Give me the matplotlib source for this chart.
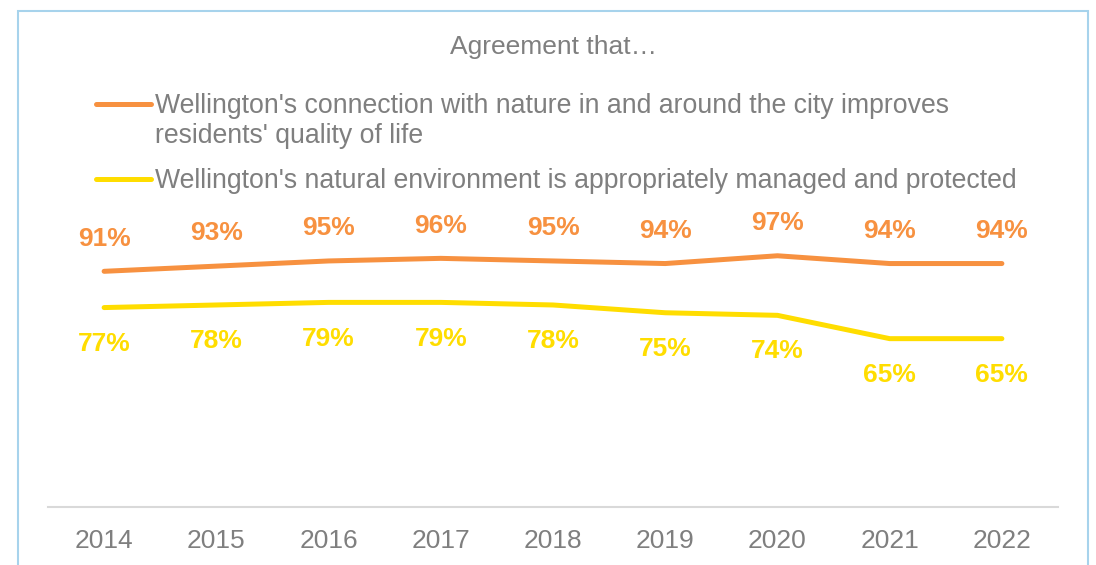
import matplotlib
matplotlib.use("Agg")
import matplotlib.pyplot as plt
from matplotlib.lines import Line2D
from matplotlib.patches import Rectangle

years = ["2014", "2015", "2016", "2017", "2018", "2019", "2020", "2021", "2022"]
connection = [91, 93, 95, 96, 95, 94, 97, 94, 94]
managed = [77, 78, 79, 79, 78, 75, 74, 65, 65]
series_names = [
    "Wellington's connection with nature in and around the city improves\nresidents' quality of life",
    "Wellington's natural environment is appropriately managed and protected",
]
title = "Agreement that\u2026"

ORANGE = "#F79140"
YELLOW = "#FFDD00"
GREY = "#7F7F7F"
W, H = 1096, 565

plt.rcParams['font.family'] = ['Liberation Sans', 'DejaVu Sans']

fig = plt.figure(figsize=(W / 100, H / 100), dpi=100)
ax = fig.add_axes([48 / W, (H - 507) / H, (1058 - 48) / W, 259 / H])

x = list(range(len(years)))
ax.plot(x, connection, color=ORANGE, lw=3.6, solid_capstyle='round', solid_joinstyle='round')
ax.plot(x, managed, color=YELLOW, lw=3.6, solid_capstyle='round', solid_joinstyle='round')

for xi, v in zip(x, connection):
    ax.annotate(f"{v}%", (xi, v), xytext=(0, 23.5), textcoords='offset points',
                ha='center', va='center', color=ORANGE, fontsize=19, fontweight='bold',
                annotation_clip=False)
for xi, v in zip(x, managed):
    ax.annotate(f"{v}%", (xi, v), xytext=(0, -26), textcoords='offset points',
                ha='center', va='center', color=YELLOW, fontsize=19, fontweight='bold',
                annotation_clip=False)

ax.set_xlim(-0.5, len(years) - 0.5)
ax.set_ylim(0, 100)
ax.set_xticks(x)
ax.set_xticklabels(years, color=GREY, fontsize=19)
ax.tick_params(axis='x', length=0, pad=16)
ax.set_yticks([])
for s in ['top', 'right', 'left']:
    ax.spines[s].set_visible(False)
ax.spines['bottom'].set_color('#D9D9D9')
ax.spines['bottom'].set_linewidth(1.5)
ax.patch.set_visible(False)

# title
fig.text(553 / W, 1 - 47 / H, title, ha='center', va='center', color=GREY, fontsize=19)

# legend (baseline of last text line of each entry)
handle_y = [104, 179]
base_y = [142.7, 187.5]
colors = [ORANGE, YELLOW]
for hy, by, c, name in zip(handle_y, base_y, colors, series_names):
    fig.add_artist(Line2D([96 / W, 151 / W], [1 - hy / H, 1 - hy / H], color=c, lw=3.6,
                          solid_capstyle='round', transform=fig.transFigure))
    fig.text(155 / W, 1 - by / H, name, ha='left', va='baseline', color=GREY,
             fontsize=19.2, linespacing=1.2)

# border
fig.add_artist(Rectangle((18 / W, -0.1), (1088 - 18) / W, 1.1 - 11 / H, fill=False,
                         edgecolor='#A7D3EC', lw=1.5, transform=fig.transFigure, clip_on=False))

fig.savefig("out.png", dpi=100)
